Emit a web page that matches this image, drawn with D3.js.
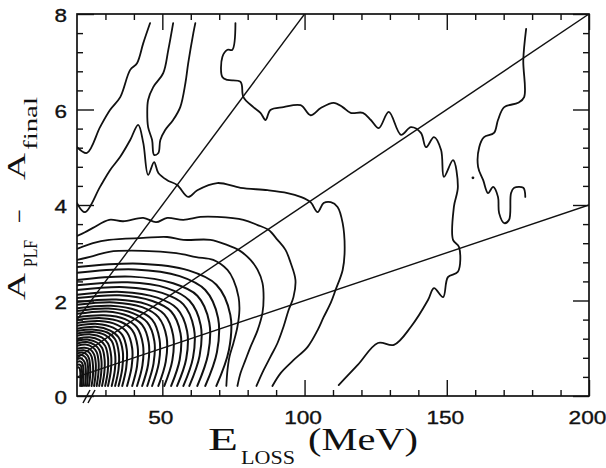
<!DOCTYPE html>
<html>
<head>
<meta charset="utf-8">
<script src="https://cdn.jsdelivr.net/npm/d3@7"></script>
<style>
  html, body { margin: 0; padding: 0; background: #fff; }
  svg { display: block; }
</style>
</head>
<body>
<svg id="chart" width="606" height="468"></svg>
<script>
// ---- axis ranges and ticks ----
const xDomain = [20, 200];
const yDomain = [0, 8];
const xMajorTicks = [50, 100, 150, 200];
const xMinorTicks = [30, 40, 60, 70, 80, 90, 110, 120, 130, 140, 160, 170, 180, 190];
const yMajorTicks = [0, 2, 4, 6, 8];
const yMinorTicks = [0.4, 0.8, 1.2, 1.6, 2.4, 2.8, 3.2, 3.6, 4.4, 4.8, 5.2, 5.6, 6.4, 6.8, 7.2, 7.6];

// ---- straight reference lines through the origin, given by their far end [E, A] ----
const rayEnds = [[100, 8], [200, 8], [200, 4]];

// ---- contour lines, points as [E_loss (MeV), A_PLF - A_final] ----
const contourA = [[20,5.21],[23.5,5.09],[28.1,5.63],[31.6,5.99],[35.2,6.26],[38.7,6.83],[41.1,6.97],[43.3,7.39],[45.7,7.81]];

const contourU = [[53.8,7.81],[52.1,7.25],[50.3,6.76],[46.8,6.47],[45.0,6.20],[44.7,5.93],[45.0,5.63],[46.4,5.36],
  [47.1,5.05],[48.6,5.09],[49.3,5.36],[51.0,5.57],[53.8,5.78],[56.3,6.05],[58.1,6.55],[59.1,6.97],[60.9,7.60],[61.6,7.81]];

const contourOuter = [[75.7,7.81],[74.6,7.25],[72.9,7.25],[71.1,7.10],[71.1,6.68],[72.9,6.62],[77.5,6.58],[78.5,6.26],
  [82.0,6.05],[84.5,5.93],[86.3,5.78],[88.0,5.99],[92.6,6.05],[98.6,6.09],[102.1,5.88],[105.7,6.03],[110.2,6.14],
  [113.4,6.05],[116.2,5.93],[120.5,5.93],[123.3,5.78],[126.1,5.61],[129.6,5.95],[133.9,5.47],[137.4,5.63],[140.9,5.51],
  [142.7,5.21],[145.5,5.42],[148.0,5.15],[149.0,4.59],[152.2,4.94],[153.9,4.38],[152.5,3.96],[152.2,3.27],[154.3,3.12],
  [153.9,2.60],[150.4,2.49],[148.7,2.07],[145.5,2.26],[143.4,2.01],[137.4,1.45],[131.4,1.07],[125.8,1.11],[118.7,0.65],[112.0,0.23]];

const contourRight = [[177.9,7.69],[176.9,7.04],[177.2,6.26],[175.1,6.14],[170.2,6.05],[168.0,5.78],[166.6,5.51],
  [163.1,5.42],[161.4,5.21],[161.0,4.80],[162.8,4.52],[164.5,4.25],[166.3,4.38],[168.0,4.17],[168.4,3.83],[170.2,3.62],
  [171.9,3.69],[172.6,4.25],[173.7,4.36],[176.9,4.36],[177.6,4.17]];

const islandPoint = [159.2, 4.57];

const contourB = [[20,4.04],[22.8,3.85],[28.1,4.38],[31.6,4.73],[35.2,5.01],[38.7,5.36],[41.5,5.68],[43.3,5.30],
  [45.0,4.63],[47.1,4.90],[48.6,4.67],[51.7,4.52],[55.2,4.42],[59.1,4.17],[62.3,4.31],[69.3,4.46],[77.5,4.36],
  [87.0,4.31],[94.0,4.25],[98.6,4.17],[102.1,4.06],[104.6,3.85],[106.7,4.04],[109.2,4.06],[111.6,3.96],[113.4,3.62],
  [114.1,3.06],[113.4,2.64],[110.9,2.22],[109.2,1.95],[106.7,1.65],[104.6,1.38],[101.1,1.03],[96.1,0.75],[91.6,0.48],[88.7,0.21]];

const contourC = [[20,3.35],[22.8,3.43],[25.6,3.52],[31.3,3.69],[36.2,3.66],[43.3,3.73],[47.8,3.64],[51.7,3.73],
  [57.4,3.69],[63.4,3.75],[69.3,3.75],[78.5,3.69],[83.5,3.58],[87.3,3.48],[90.5,3.27],[93.3,3.06],[95.1,2.79],
  [96.8,2.43],[96.1,2.07],[94.4,1.80],[92.6,1.45],[90.5,1.11],[88.0,0.82],[85.6,0.54],[83.1,0.21]];

const contourD = [[20,3.08],[25.6,3.20],[31.3,3.27],[43.3,3.31],[51.7,3.33],[57.4,3.27],[66.9,3.27],[72.9,3.16],
  [76.8,3.06],[81.0,2.85],[83.5,2.64],[85.2,2.37],[85.6,2.07],[85.2,1.74],[83.5,1.38],[81.0,1.03],[79.2,0.75],[77.5,0.48],[76.4,0.21]];

const contourE = [[20,2.85],[25.6,2.93],[31.3,3.02],[43.3,3.04],[54.9,2.99],[61.9,2.91],[67.9,2.85],[72.9,2.64],
  [75.0,2.43],[76.8,2.07],[77.1,1.80],[76.4,1.45],[75.0,1.11],[73.6,0.82],[72.9,0.54],[72.5,0.21]];

// densely packed inner contours around the peak of the distribution
const innerContours = [
  [[20,2.70],[42.1,2.77],[59.2,2.63],[69.0,2.33],[73.9,1.70],[73.4,0.96],[69.0,0.21]],
  [[20,2.58],[40.3,2.65],[56.1,2.51],[65.1,2.22],[69.6,1.63],[69.2,0.92],[65.1,0.21]],
  [[20,2.43],[39.0,2.50],[53.8,2.36],[62.3,2.10],[66.5,1.54],[66.1,0.88],[62.3,0.21]],
  [[20,2.32],[37.8,2.38],[51.6,2.26],[59.5,2.00],[63.5,1.48],[63.1,0.84],[59.5,0.21]],
  [[20,2.22],[36.8,2.28],[49.9,2.16],[57.4,1.92],[61.1,1.42],[60.8,0.81],[57.4,0.21]],
  [[20,2.12],[35.8,2.18],[48.2,2.06],[55.2,1.83],[58.7,1.36],[58.4,0.78],[55.2,0.21]],
  [[20,2.05],[34.9,2.11],[46.5,1.99],[53.1,1.77],[56.4,1.31],[56.1,0.76],[53.1,0.21]],
  [[20,1.97],[33.8,2.02],[44.6,1.92],[50.7,1.71],[53.8,1.27],[53.5,0.74],[50.7,0.21]],
  [[20,1.91],[32.9,1.96],[42.9,1.86],[48.6,1.65],[51.5,1.23],[51.2,0.72],[48.6,0.21]],
  [[20,1.84],[31.9,1.89],[41.1,1.79],[46.4,1.60],[49.0,1.19],[48.8,0.70],[46.4,0.21]],
  [[20,1.78],[31.1,1.83],[39.8,1.73],[44.7,1.54],[47.2,1.15],[46.9,0.68],[44.7,0.21]],
  [[20,1.72],[30.3,1.77],[38.3,1.67],[42.9,1.49],[45.2,1.12],[45.0,0.66],[42.9,0.21]],
  [[20,1.65],[29.5,1.69],[36.9,1.61],[41.1,1.43],[43.2,1.07],[43.0,0.64],[41.1,0.21]],
  [[20,1.59],[28.7,1.63],[35.5,1.55],[39.4,1.38],[41.3,1.04],[41.1,0.62],[39.4,0.21]],
  [[20,1.53],[27.9,1.57],[34.1,1.49],[37.6,1.33],[39.4,1.00],[39.2,0.61],[37.6,0.21]],
  [[20,1.47],[27.2,1.51],[32.7,1.43],[35.9,1.28],[37.5,0.97],[37.3,0.59],[35.9,0.21]],
  [[20,1.41],[26.6,1.45],[31.7,1.37],[34.6,1.23],[36.1,0.93],[35.9,0.57],[34.6,0.21]],
  [[20,1.36],[26.0,1.39],[30.7,1.33],[33.4,1.19],[34.7,0.90],[34.6,0.56],[33.4,0.21]],
  [[20,1.31],[25.5,1.34],[29.8,1.28],[32.2,1.15],[33.4,0.87],[33.3,0.54],[32.2,0.21]],
  [[20,1.26],[24.9,1.29],[28.7,1.23],[30.9,1.10],[32.0,0.84],[31.9,0.53],[30.9,0.21]],
  [[20,1.20],[24.5,1.23],[27.9,1.17],[29.9,1.05],[30.9,0.80],[30.8,0.51],[29.9,0.21]],
  [[20,1.15],[24.0,1.18],[27.0,1.12],[28.8,1.01],[29.7,0.77],[29.6,0.49],[28.8,0.21]],
  [[20,1.10],[23.5,1.13],[26.2,1.07],[27.8,0.97],[28.6,0.74],[28.5,0.48],[27.8,0.21]],
  [[20,1.05],[23.1,1.08],[25.5,1.02],[26.9,0.92],[27.6,0.71],[27.5,0.46],[26.9,0.21]],
  [[20,0.99],[22.7,1.01],[24.8,0.97],[26.0,0.87],[26.6,0.68],[26.5,0.44],[26.0,0.21]],
  [[20,0.94],[22.3,0.96],[24.1,0.92],[25.1,0.83],[25.6,0.65],[25.6,0.43],[25.1,0.21]],
  [[20,0.89],[21.9,0.91],[23.4,0.87],[24.2,0.79],[24.6,0.62],[24.6,0.41],[24.2,0.21]],
  [[20,0.84],[21.6,0.86],[22.8,0.82],[23.5,0.75],[23.9,0.59],[23.8,0.40],[23.5,0.21]],
  [[20,0.77],[21.3,0.79],[22.2,0.75],[22.8,0.69],[23.1,0.55],[23.1,0.38],[22.8,0.21]],
  [[20,0.71],[20.9,0.73],[21.7,0.70],[22.1,0.64],[22.3,0.51],[22.3,0.36],[22.1,0.21]],
  [[20,0.65],[20.7,0.66],[21.3,0.64],[21.6,0.58],[21.8,0.47],[21.7,0.34],[21.6,0.21]],
  [[20,0.59],[20.5,0.60],[20.9,0.58],[21.1,0.53],[21.2,0.44],[21.2,0.32],[21.1,0.21]]
];

// ---- layout ----
const plot = { left: 77, right: 589, top: 14, bottom: 396 };
const ink = "#111";
const tickFont = "'Liberation Sans', Arial, sans-serif";
const titleFont = "'Liberation Serif', 'Times New Roman', serif";

const svg = d3.select("#chart");
const x = d3.scaleLinear().domain(xDomain).range([plot.left, plot.right]);
const y = d3.scaleLinear().domain(yDomain).range([plot.bottom, plot.top]);

svg.append("defs").append("clipPath").attr("id", "plotClip")
  .append("rect")
  .attr("x", plot.left).attr("y", plot.top)
  .attr("width", plot.right - plot.left).attr("height", plot.bottom - plot.top);

const body = svg.append("g").attr("clip-path", "url(#plotClip)");

const line = d3.line()
  .x(d => x(d[0])).y(d => y(d[1]))
  .curve(d3.curveCatmullRom.alpha(0.5));

const outerContours = [contourA, contourU, contourOuter, contourRight, contourB, contourC, contourD, contourE];

body.selectAll("path.contour")
  .data(outerContours)
  .join("path")
  .attr("class", "contour")
  .attr("d", line)
  .attr("fill", "none")
  .attr("stroke", ink)
  .attr("stroke-width", 1.8)
  .attr("stroke-linejoin", "round")
  .attr("stroke-linecap", "round");

body.selectAll("path.inner")
  .data(innerContours)
  .join("path")
  .attr("class", "inner")
  .attr("d", line)
  .attr("fill", "none")
  .attr("stroke", ink)
  .attr("stroke-width", 2.0)
  .attr("stroke-linejoin", "round")
  .attr("stroke-linecap", "round");

body.append("circle")
  .attr("cx", x(islandPoint[0])).attr("cy", y(islandPoint[1]))
  .attr("r", 1.4).attr("fill", ink);

// straight lines A = E * (A_end / E_end), starting at the left edge of the window
body.selectAll("line.ray")
  .data(rayEnds)
  .join("line")
  .attr("class", "ray")
  .attr("x1", x(xDomain[0]))
  .attr("y1", d => y(xDomain[0] * d[1] / d[0]))
  .attr("x2", d => x(d[0]))
  .attr("y2", d => y(d[1]))
  .attr("stroke", ink)
  .attr("stroke-width", 1.4);

// ---- axes: inward ticks on all four sides ----
function styleAxis(g) {
  g.select(".domain").remove();
  g.selectAll(".tick line").attr("stroke", ink).attr("stroke-width", 1.4);
}

svg.append("g").attr("transform", `translate(0,${plot.bottom})`)
  .call(d3.axisBottom(x).tickValues(xMinorTicks).tickSize(-6).tickFormat(""))
  .call(styleAxis);
const xMajor = svg.append("g").attr("transform", `translate(0,${plot.bottom})`)
  .call(d3.axisBottom(x).tickValues(xMajorTicks).tickSize(-16).tickPadding(15).tickFormat(d3.format("d")))
  .call(styleAxis);
xMajor.selectAll(".tick text")
  .attr("font-family", tickFont).attr("font-size", 19).attr("fill", ink)
  .attr("stroke", ink).attr("stroke-width", 0.35)
  .attr("dx", -2)
  .attr("textLength", d => String(d).length * 12.6)
  .attr("lengthAdjust", "spacingAndGlyphs");

svg.append("g").attr("transform", `translate(0,${plot.top})`)
  .call(d3.axisTop(x).tickValues(xMinorTicks).tickSize(-6).tickFormat(""))
  .call(styleAxis);
svg.append("g").attr("transform", `translate(0,${plot.top})`)
  .call(d3.axisTop(x).tickValues(xMajorTicks).tickSize(-16).tickFormat(""))
  .call(styleAxis);

svg.append("g").attr("transform", `translate(${plot.left},0)`)
  .call(d3.axisLeft(y).tickValues(yMinorTicks).tickSize(-6).tickFormat(""))
  .call(styleAxis);
const yMajor = svg.append("g").attr("transform", `translate(${plot.left},0)`)
  .call(d3.axisLeft(y).tickValues(yMajorTicks).tickSize(-17).tickPadding(10).tickFormat(d3.format("d")))
  .call(styleAxis);
yMajor.selectAll(".tick text")
  .attr("font-family", tickFont).attr("font-size", 19).attr("fill", ink)
  .attr("stroke", ink).attr("stroke-width", 0.35)
  .attr("dy", "0.42em")
  .attr("textLength", 12.5)
  .attr("lengthAdjust", "spacingAndGlyphs");

svg.append("g").attr("transform", `translate(${plot.right},0)`)
  .call(d3.axisRight(y).tickValues(yMinorTicks).tickSize(-6).tickFormat(""))
  .call(styleAxis);
svg.append("g").attr("transform", `translate(${plot.right},0)`)
  .call(d3.axisRight(y).tickValues(yMajorTicks).tickSize(-16).tickFormat(""))
  .call(styleAxis);

// frame
svg.append("rect")
  .attr("x", plot.left).attr("y", plot.top)
  .attr("width", plot.right - plot.left).attr("height", plot.bottom - plot.top)
  .attr("fill", "none").attr("stroke", ink).attr("stroke-width", 1.7);

// axis break marks on the E axis (the scale does not start at zero)
const breakMarks = svg.append("g").attr("stroke", ink).attr("stroke-width", 1.5);
[6, 11].forEach(off => {
  breakMarks.append("line")
    .attr("x1", plot.left + off).attr("y1", plot.bottom + 7)
    .attr("x2", plot.left + off + 7).attr("y2", plot.bottom - 6);
});

// ---- axis titles ----
const xTitle = svg.append("g").attr("font-family", titleFont).attr("fill", ink);
xTitle.append("text").attr("x", 208).attr("y", 450).attr("font-size", 32)
  .attr("textLength", 30).attr("lengthAdjust", "spacingAndGlyphs").text("E");
xTitle.append("text").attr("x", 241).attr("y", 464).attr("font-size", 19)
  .attr("textLength", 54).attr("lengthAdjust", "spacingAndGlyphs").text("LOSS");
xTitle.append("text").attr("x", 308).attr("y", 450).attr("font-size", 32)
  .attr("textLength", 110).attr("lengthAdjust", "spacingAndGlyphs").text("(MeV)");

const yTitle = svg.append("g").attr("font-family", titleFont).attr("fill", ink)
  .attr("transform", "translate(25,300) rotate(-90)");
yTitle.append("text").attr("x", 0).attr("y", 0).attr("font-size", 26)
  .attr("textLength", 27).attr("lengthAdjust", "spacingAndGlyphs").text("A");
yTitle.append("text").attr("x", 33).attr("y", 12).attr("font-size", 18)
  .attr("textLength", 27).attr("lengthAdjust", "spacingAndGlyphs").text("PLF");
yTitle.append("text").attr("x", 77).attr("y", 3).attr("font-size", 26)
  .attr("textLength", 14).attr("lengthAdjust", "spacingAndGlyphs").text("\u2212");
yTitle.append("text").attr("x", 120).attr("y", 0).attr("font-size", 26)
  .attr("textLength", 27).attr("lengthAdjust", "spacingAndGlyphs").text("A");
yTitle.append("text").attr("x", 150).attr("y", 12).attr("font-size", 19)
  .attr("textLength", 53).attr("lengthAdjust", "spacingAndGlyphs").text("final");
</script>
</body>
</html>
